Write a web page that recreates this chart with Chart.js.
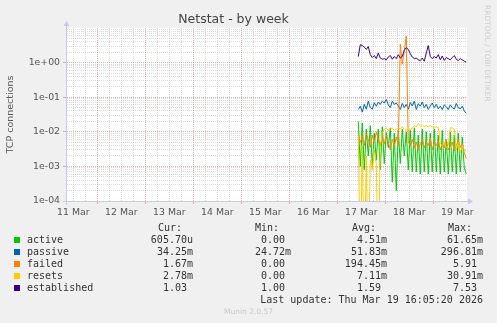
<!DOCTYPE html>
<html>
<head>
<meta charset="utf-8">
<title>Netstat - by week</title>
<script src="https://cdn.jsdelivr.net/npm/chart.js@4.4.1/dist/chart.umd.min.js"></script>
<style>
  html, body { margin: 0; padding: 0; background: #f0f0f0; }
  #wrap { position: relative; width: 497px; height: 323px; overflow: hidden; }
  #chartBox { position: absolute; left: 0; top: 0; width: 497px; height: 225px; }
  #legend { position: absolute; left: 0; top: 0; width: 497px; height: 323px; font: 10px "DejaVu Sans Mono", monospace; color: #333; }
  .t { position: absolute; white-space: pre; line-height: 12px; }
  .sw { position: absolute; width: 6px; height: 6px; }
  #munin { position: absolute; left: 0; width: 497px; top: 307px; text-align: center; font: 7.5px "DejaVu Sans", sans-serif; line-height: 9px; color: #c8c8c8; }
  #vendor { position: absolute; left: 483px; top: 5px; writing-mode: vertical-rl; font: 7.5px "DejaVu Sans", sans-serif; line-height: 8px; color: #cfcfcf; white-space: nowrap; }
</style>
</head>
<body>
<div id="wrap">
  <div id="chartBox"><canvas id="netstat" width="497" height="225"></canvas></div>
  <div id="legend"></div>
  <div id="munin">Munin 2.0.57</div>
  <div id="vendor">RRDTOOL / TOBI OETIKER</div>
</div>
<script>
// x axis is in days after 11 Mar 00:00, samples are hourly from 17 Mar 10:30
const dayLabels = ['11 Mar', '12 Mar', '13 Mar', '14 Mar', '15 Mar', '16 Mar', '17 Mar', '18 Mar', '19 Mar'];
const yTickLabels = ['1e-04', '1e-03', '1e-02', '1e-01', '1e+00'];
const firstSample = 6.4375;
const sampleStep = 1 / 24;

const active = [0.02, 0.001, 0.018, 0.0008, 0.012, 0.002, 0.015, 0.001, 0.009, 0.0015,
  0.012, 0.0008, 0.014, 0.0012, 0.0095, 0.0035, 0.013, 0.00035, 0.009, 0.0002,
  0.011, 0.0012, 0.012, 0.002, 0.01, 0.0008, 0.011, 0.0007, 0.013, 0.0007,
  0.008, 0.0006, 0.012, 0.0007, 0.01, 0.0006, 0.009, 0.0007, 0.012, 0.0007,
  0.008, 0.0006, 0.011, 0.0007, 0.006, 0.0006, 0.01, 0.0007, 0.008, 0.0006,
  0.009, 0.0007, 0.007, 0.0009, 0.0006];
const passive = [0.044, 0.055, 0.037, 0.062, 0.045, 0.077, 0.05, 0.045, 0.069, 0.055,
  0.072, 0.062, 0.077, 0.068, 0.086, 0.06, 0.05, 0.077, 0.062, 0.068,
  0.056, 0.044, 0.066, 0.05, 0.062, 0.045, 0.07, 0.056, 0.077, 0.044,
  0.065, 0.055, 0.073, 0.05, 0.062, 0.044, 0.056, 0.068, 0.05, 0.062,
  0.046, 0.055, 0.044, 0.06, 0.053, 0.044, 0.06, 0.05, 0.045, 0.066,
  0.05, 0.046, 0.055, 0.04, 0.0343];
const failed = [0.009, 0.005, 0.007, 0.004, 0.009, 0.006, 0.0035, 0.008, 0.005, 0.01,
  0.006, 0.004, 0.007, 0.0045, 0.008, 0.005, 0.003, 0.006, 0.004, 0.007,
  0.004, 3.4, 0.9, 2.2, 5.9, 0.005, 0.004, 0.006, 0.0035, 0.005,
  0.003, 0.0045, 0.006, 0.0035, 0.005, 0.004, 0.0065, 0.003, 0.005, 0.004,
  0.0055, 0.003, 0.0045, 0.0035, 0.006, 0.003, 0.004, 0.005, 0.0028, 0.004,
  0.006, 0.0035, 0.0045, 0.0025, 0.00167];
const resets = [0.008, 0, 0.004, 0, 0.002, 0, 0.0015, 0.0008, 0.003, 0.0012,
  0, 0.004, 0.009, 0.012, 0.013, 0.011, 0.012, 0.013, 0.011, 0.012,
  0.013, 0.012, 0.014, 0.012, 0.011, 0.012, 0.011, 0.013, 0.015, 0.014,
  0.017, 0.015, 0.016, 0.014, 0.015, 0.014, 0.015, 0.014, 0.013, 0.014,
  0.013, 0.0045, 0.004, 0.005, 0.0035, 0.004, 0.013, 0.013, 0.012, 0.003,
  0.005, 0.0025, 0.004, 0.003, 0.00278];
const established = [1.5, 3.3, 3.1, 2.8, 2.4, 2.9, 1.7, 1.4, 1.6, 1.3,
  1.9, 1.35, 1.25, 1.3, 1.2, 1.45, 1.6, 1.25, 1.5, 1.3,
  1.7, 1.35, 1.5, 2.3, 2.7, 2.4, 1.8, 1.45, 1.3, 1.35,
  1.2, 1.15, 1.35, 1.1, 1.9, 3.1, 1.5, 1.3, 1.5, 1.35,
  1.7, 1.2, 1.55, 1.15, 1.4, 1.3, 1.2, 1.4, 1.6, 1.25,
  1.15, 1.3, 1.2, 1.1, 1.03];

const seriesNames = ['active', 'passive', 'failed', 'resets', 'established'];
const seriesColors = ['#00cc00', '#0066b3', '#ff8000', '#ffcc00', '#330099'];
const curVals = ['605.70u', '34.25m', '1.67m', '2.78m', '1.03'];
const minVals = ['0.00', '24.72m', '0.00', '0.00', '1.00'];
const avgVals = ['4.51m', '51.83m', '194.45m', '7.11m', '1.59'];
const maxVals = ['61.65m', '296.81m', '5.91', '30.91m', '7.53'];

document.addEventListener('DOMContentLoaded', () => {
    const xMin = 0.369;
    const xMax = xMin + 200 / 24;
    const belowAxis = 1e-6; // zero can't sit on a log axis, so drop it off the bottom like rrdtool does
    const majorColor = 'rgba(205, 80, 80, 0.45)';
    const minorColor = 'rgba(150, 150, 150, 0.35)';
    const axisColor = '#c6c8ee';

    const isDay = v => Math.abs(v - Math.round(v)) < 1e-9;
    const isDecade = v => Math.abs(Math.log10(v) - Math.round(Math.log10(v))) < 1e-9;

    const xGrid = [];
    for (let d = 0.5; d <= xMax; d += 0.25) xGrid.push(d);
    const yGrid = [];
    for (let e = -4; e <= 0; e++) {
        for (let m = 1; m <= 9; m++) yGrid.push(m * Math.pow(10, e));
    }

    const toPoints = arr => arr.map((v, i) => ({ x: firstSample + i * sampleStep, y: v > 0 ? v : belowAxis }));
    const allSeries = [active, passive, failed, resets, established];

    const datasets = allSeries.map((arr, i) => ({
        label: seriesNames[i],
        data: toPoints(arr),
        borderColor: seriesColors[i],
        borderWidth: 1,
        pointRadius: 0,
        tension: 0,
        fill: false,
        order: allSeries.length - i
    }));

    const plotFrame = {
        id: 'plotFrame',
        beforeDraw(chart) {
            const { ctx, chartArea: a } = chart;
            ctx.save();
            ctx.fillStyle = '#ffffff';
            ctx.fillRect(a.left, a.top, a.right - a.left, a.bottom - a.top);
            ctx.restore();
        },
        afterDraw(chart) {
            const { ctx, chartArea: a } = chart;
            ctx.save();
            ctx.strokeStyle = axisColor;
            ctx.fillStyle = axisColor;
            ctx.lineWidth = 1;
            ctx.beginPath();
            ctx.moveTo(a.left - 0.5, a.bottom + 4);
            ctx.lineTo(a.left - 0.5, a.top - 3);
            ctx.moveTo(a.left - 4, a.bottom + 0.5);
            ctx.lineTo(a.right + 2, a.bottom + 0.5);
            ctx.stroke();
            ctx.beginPath();
            ctx.moveTo(a.left - 3.5, a.top - 2);
            ctx.lineTo(a.left + 2.5, a.top - 2);
            ctx.lineTo(a.left - 0.5, a.top - 7);
            ctx.closePath();
            ctx.fill();
            ctx.beginPath();
            ctx.moveTo(a.right + 1, a.bottom - 2.5);
            ctx.lineTo(a.right + 1, a.bottom + 3.5);
            ctx.lineTo(a.right + 6, a.bottom + 0.5);
            ctx.closePath();
            ctx.fill();
            ctx.restore();
        }
    };

    Chart.defaults.font.family = '"DejaVu Sans", sans-serif';

    new Chart(document.getElementById('netstat').getContext('2d'), {
        type: 'line',
        data: { datasets },
        plugins: [plotFrame],
        options: {
            responsive: false,
            animation: false,
            layout: { padding: { left: 0, right: 30, top: 0, bottom: 0 } },
            plugins: {
                legend: { display: false },
                tooltip: { enabled: false },
                title: {
                    display: true,
                    text: 'Netstat - by week',
                    color: '#444',
                    font: { size: 12.5, weight: 'normal' },
                    padding: { top: 12, bottom: 1 }
                }
            },
            scales: {
                x: {
                    type: 'linear',
                    min: xMin,
                    max: xMax,
                    afterBuildTicks: axis => { axis.ticks = xGrid.map(v => ({ value: v })); },
                    afterFit: axis => { axis.height = 24; axis.paddingLeft = 0; axis.paddingRight = 0; },
                    grid: {
                        color: ctx => isDay(ctx.tick.value) ? majorColor : minorColor,
                        lineWidth: 1,
                        tickLength: 3,
                        tickColor: ctx => isDay(ctx.tick.value) ? majorColor : 'transparent'
                    },
                    border: { display: false, dash: [1, 1] },
                    ticks: {
                        autoSkip: false,
                        maxRotation: 0,
                        padding: 3,
                        color: '#555',
                        font: { size: 9.33 },
                        callback: v => {
                            const day = v - 0.5;
                            return isDay(day) ? (dayLabels[Math.round(day)] || '') : '';
                        }
                    }
                },
                y: {
                    type: 'logarithmic',
                    min: 1e-4,
                    max: 10,
                    afterBuildTicks: axis => { axis.ticks = yGrid.map(v => ({ value: v, major: isDecade(v) })); },
                    afterFit: axis => { axis.width = 67; axis.paddingTop = 0; axis.paddingBottom = 0; },
                    title: {
                        display: true,
                        text: 'TCP connections',
                        color: '#555',
                        font: { size: 9.5 },
                        padding: { top: 5, bottom: 0 }
                    },
                    grid: {
                        color: ctx => isDecade(ctx.tick.value) ? majorColor : minorColor,
                        lineWidth: 1,
                        tickLength: 4,
                        tickColor: ctx => isDecade(ctx.tick.value) ? majorColor : 'transparent'
                    },
                    border: { display: false, dash: [1, 1] },
                    ticks: {
                        autoSkip: false,
                        padding: 3,
                        color: '#555',
                        font: { size: 9.33 },
                        callback: v => isDecade(v) ? (yTickLabels[Math.round(Math.log10(v)) + 4] || '') : ''
                    }
                }
            }
        }
    });

    // rrdtool-style legend with Cur/Min/Avg/Max columns
    const legend = document.getElementById('legend');
    const put = (text, css, cls = 't') => {
        const el = document.createElement('div');
        el.className = cls;
        el.textContent = text;
        Object.assign(el.style, css);
        legend.appendChild(el);
        return el;
    };
    const colRight = [193, 291, 387, 483];
    const headers = [['Cur:', 158], ['Min:', 255], ['Avg:', 352], ['Max:', 448]];
    headers.forEach(([h, left]) => put(h, { left: left + 'px', top: '222px' }));

    const withUnit = v => /\d$/.test(v) ? v + ' ' : v;
    seriesNames.forEach((name, i) => {
        const top = 234 + i * 12;
        put('', { left: '14px', top: (top + 3) + 'px', background: seriesColors[i] }, 'sw');
        put(name, { left: '27px', top: top + 'px' });
        [curVals, minVals, avgVals, maxVals].forEach((col, c) => {
            put(withUnit(col[i]), { right: (497 - colRight[c]) + 'px', top: top + 'px' });
        });
    });
    put('Last update: Thu Mar 19 16:05:20 2026', { right: '14px', top: '294px' });
});
</script>
</body>
</html>
